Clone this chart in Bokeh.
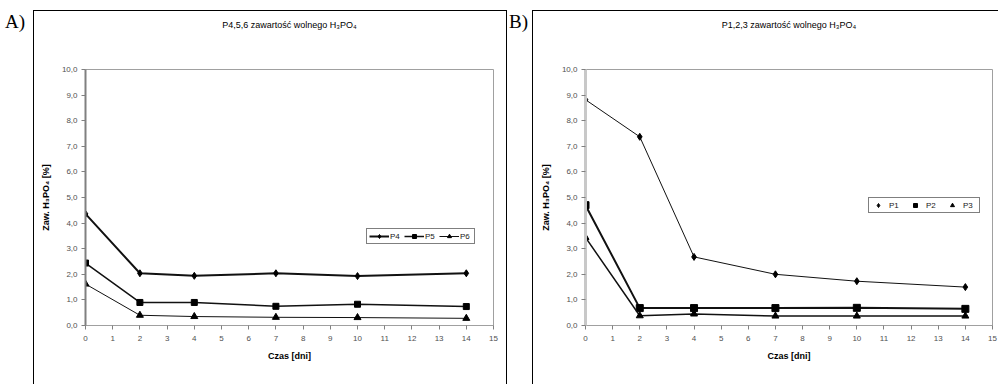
from bokeh.plotting import figure
from bokeh.models import Range1d, FixedTicker, CustomJSTickFormatter, Legend, LegendItem, Div, Title
from bokeh.layouts import row
from bokeh.embed import file_html
from bokeh.resources import INLINE

days = [0, 2, 4, 7, 10, 14]
p4 = [4.36, 2.04, 1.94, 2.04, 1.93, 2.04]
p5 = [2.44, 0.90, 0.90, 0.75, 0.83, 0.74]
p6 = [1.62, 0.40, 0.35, 0.32, 0.31, 0.28]
p1 = [8.82, 7.37, 2.68, 2.00, 1.73, 1.50]
p2 = [4.70, 0.68, 0.68, 0.68, 0.69, 0.65]
p3 = [3.44, 0.38, 0.45, 0.37, 0.37, 0.37]
x_ticks = list(range(16))
y_ticks = list(range(11))
title_a = "P4,5,6 zawartość wolnego H₃PO₄"
title_b = "P1,2,3 zawartość wolnego H₃PO₄"
y_label = "Zaw. H₃PO₄ [%]"
x_label = "Czas [dni]"
FONT = "Liberation Sans"


def make_panel(title, series, width, mbl, mbr, yaxis_color, yaxis_width,
               legend_loc, legend_lines, styles):
    p = figure(width=width, height=374, output_backend="svg", toolbar_location=None,
               x_range=Range1d(0, 15), y_range=Range1d(0, 10),
               min_border_left=mbl, min_border_right=mbr, min_border_top=58,
               min_border_bottom=60, margin=(10, 0, 0, 0), styles=styles)
    # invisible spacer between title and frame
    p.add_layout(Title(text=" ", text_font_size="30px", standoff=0), "above")
    p.add_layout(Title(text=title, align="center", text_font=FONT,
                       text_font_size="9px", text_font_style="normal",
                       text_color="black"), "above")
    p.grid.visible = False
    p.outline_line_color = "#a0a0a0"
    p.outline_line_width = 1
    p.background_fill_color = "white"
    p.border_fill_color = "white"
    fmt = CustomJSTickFormatter(code="return tick.toFixed(1).replace('.', ',');")
    p.yaxis.formatter = fmt
    p.yaxis.ticker = FixedTicker(ticks=y_ticks)
    p.xaxis.ticker = FixedTicker(ticks=x_ticks)
    for ax in (p.xaxis[0], p.yaxis[0]):
        ax.major_label_text_font = FONT
        ax.major_label_text_font_size = "8px"
        ax.major_label_text_color = "#505050"
        ax.axis_label_text_font = FONT
        ax.axis_label_text_font_size = "9px"
        ax.axis_label_text_font_style = "bold"
        ax.axis_label_text_color = "black"
        ax.minor_tick_line_color = None
        ax.major_tick_out = 4
        ax.major_tick_in = 0
        ax.major_tick_line_color = "#808080"
    p.xaxis.axis_label = x_label
    p.yaxis.axis_label = y_label
    p.xaxis.axis_line_color = "#a0a0a0"
    p.yaxis.axis_line_color = yaxis_color
    p.yaxis.axis_line_width = yaxis_width
    p.yaxis.major_label_standoff = 4
    p.xaxis.major_label_standoff = 6
    p.xaxis.axis_label_standoff = 7
    p.yaxis.axis_label_standoff = 8

    items = []
    for name, vals, lw, marker, msize in series:
        ln = p.line(days, vals, line_color="#111111", line_width=lw)
        sc = p.scatter(days, vals, marker=marker, size=msize, color="black")
        items.append(LegendItem(label=name, renderers=[ln, sc] if legend_lines else [sc]))
    if legend_lines:
        lg_opts = dict(glyph_width=20, label_standoff=1, label_width=12, spacing=2)
    else:
        lg_opts = dict(glyph_width=14, label_standoff=4, label_width=14, spacing=5)
    lg = Legend(items=items, location=legend_loc, orientation="horizontal",
                label_text_font=FONT, label_text_font_size="8px",
                label_text_color="#202020", glyph_height=10,
                padding=2, margin=0,
                border_line_color="black", border_line_width=1,
                background_fill_alpha=1, label_height=10, **lg_opts)
    p.add_layout(lg)
    return p


pa = make_panel(title_a,
                [("P4", p4, 2.0, "diamond", 7), ("P5", p5, 1.5, "square", 6),
                 ("P6", p6, 1.0, "triangle", 7)],
                474, 51, 15, "#808080", 2, (281, 81), True,
                {"border-left": "1px solid black", "border-top": "1px solid black",
                 "border-right": "1px solid black"})
pb = make_panel(title_b,
                [("P1", p1, 1.0, "diamond", 7), ("P2", p2, 2.0, "square", 7),
                 ("P3", p3, 1.5, "triangle", 7)],
                466, 52, 7, "#c8c8c8", 3, (283, 112), False,
                {"border-left": "1px solid black", "border-top": "1px solid black"})

lab_style = {"font-family": "Liberation Serif", "font-size": "19px", "color": "black"}
div_a = Div(text="A)", width=28, height=30, margin=(8, 0, 0, 5), styles=lab_style)
div_b = Div(text="B)", width=23, height=30, margin=(8, 0, 0, 2), styles=lab_style)

layout = row(div_a, pa, div_b, pb)
open("out.html", "w").write(file_html(layout, INLINE))
